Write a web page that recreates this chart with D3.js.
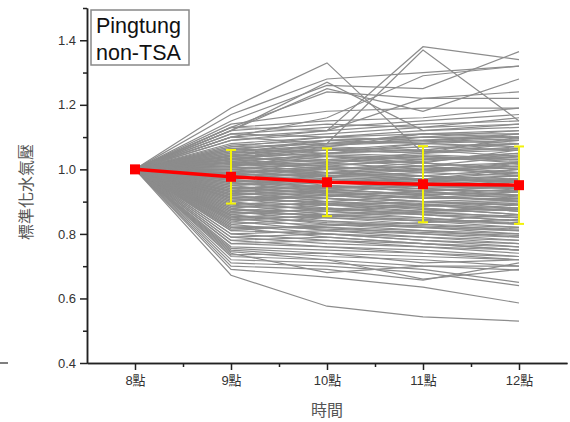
<!DOCTYPE html>
<html>
<head>
<meta charset="utf-8">
<script src="https://cdn.jsdelivr.net/npm/d3@7"></script>
<style>
  body { margin: 0; background: #fff; }
  svg { display: block; }
</style>
</head>
<body>
<div id="chart"></div>
<script>
// hours on the x axis
var hours = [8, 9, 10, 11, 12]
var hourLabels = ["8點", "9點", "10點", "11點", "12點"]
var yTicks = [0.4, 0.6, 0.8, 1.0, 1.2, 1.4]

// mean of all stations and its spread (error bars)
var meanVals = [1.0, 0.977, 0.96, 0.954, 0.951]
var sdVals = [0, 0.083, 0.105, 0.118, 0.12]

// every station starts at 1.0 at 8點; values below are 9點..12點
var startVal = 1.0
var stationVals = [
  [1.07,1.08,1.09,1.10],[1.065,1.05,1.07,1.08],[1.06,1.09,1.08,1.11],[1.055,1.04,1.03,1.05],
  [1.05,1.07,1.10,1.09],[1.045,1.03,1.02,1.00],[1.04,1.06,1.05,1.07],[1.04,1.02,1.04,1.03],
  [1.035,1.05,1.06,1.04],[1.03,1.01,0.99,1.01],[1.03,1.04,1.02,1.06],[1.025,1.00,1.01,0.98],
  [1.02,1.03,1.05,1.08],[1.02,0.99,0.97,0.96],[1.015,1.02,1.00,1.02],[1.01,1.04,1.03,1.05],
  [1.01,0.98,0.98,0.97],[1.005,1.00,1.02,1.00],[1.00,1.02,1.04,1.03],[1.00,0.97,0.95,0.94],
  [0.995,0.99,1.00,1.01],[0.99,1.01,0.99,0.98],[0.99,0.96,0.94,0.95],[0.985,0.98,0.97,0.99],
  [0.98,1.00,1.01,1.04],[0.98,0.95,0.93,0.92],[0.975,0.97,0.96,0.95],[0.97,0.99,0.98,0.96],
  [0.97,0.94,0.92,0.90],[0.965,0.96,0.97,0.98],[0.96,0.98,1.00,0.99],[0.96,0.93,0.91,0.91],
  [0.955,0.95,0.94,0.93],[0.95,0.97,0.96,0.97],[0.95,0.92,0.90,0.88],[0.945,0.94,0.95,0.94],
  [0.94,0.96,0.97,1.00],[0.94,0.91,0.89,0.87],[0.935,0.93,0.92,0.93],[0.93,0.95,0.94,0.92],
  [0.93,0.90,0.88,0.86],[0.925,0.92,0.93,0.95],[0.92,0.94,0.92,0.90],[0.92,0.89,0.87,0.85],
  [0.915,0.91,0.90,0.91],[0.91,0.93,0.95,0.96],[0.91,0.88,0.86,0.84],[0.905,0.90,0.89,0.88],
  [0.90,0.92,0.91,0.93],[0.90,0.87,0.85,0.83],[0.895,0.89,0.90,0.89],[0.89,0.91,0.89,0.87],
  [0.89,0.86,0.84,0.82],[0.885,0.88,0.87,0.88],[0.88,0.90,0.92,0.94],[0.88,0.85,0.83,0.81],
  [0.875,0.87,0.86,0.85],[0.87,0.89,0.88,0.86],[0.87,0.84,0.82,0.80],[0.865,0.86,0.87,0.89],
  [0.86,0.88,0.86,0.84],[0.86,0.83,0.81,0.79],[0.855,0.85,0.84,0.83],[0.85,0.87,0.89,0.90],
  [0.85,0.82,0.80,0.78],[0.845,0.84,0.83,0.82],[0.84,0.86,0.85,0.83],[0.84,0.81,0.79,0.77],
  [0.835,0.83,0.82,0.81],[0.83,0.85,0.84,0.86],[0.83,0.80,0.78,0.76],[0.82,0.82,0.81,0.80],
  [0.82,0.79,0.77,0.75],[0.81,0.83,0.82,0.81],[0.81,0.80,0.79,0.78],[0.80,0.78,0.76,0.75],
  [0.80,0.81,0.80,0.79],[0.79,0.77,0.76,0.74],[0.79,0.80,0.78,0.77],[0.78,0.76,0.75,0.73],
  [0.78,0.79,0.77,0.76],[0.77,0.76,0.74,0.73],[0.77,0.78,0.77,0.75],[0.76,0.75,0.74,0.72],
  [1.06,1.07,1.06,1.09],[1.05,1.06,1.08,1.07],[1.04,1.05,1.04,1.02],[1.03,1.06,1.07,1.06],
  [1.02,1.01,1.03,1.04],[1.01,1.03,1.01,0.99],[1.00,0.99,1.01,1.02],[0.99,1.00,0.98,1.00],
  [0.98,0.99,0.97,0.97],[0.97,0.98,0.99,1.02],[0.96,0.97,0.95,0.96],[0.95,0.96,0.98,0.95],
  [0.94,0.95,0.93,0.91],[0.93,0.94,0.96,0.98],[0.92,0.93,0.91,0.92],[0.91,0.92,0.90,0.89],
  [1.075,1.09,1.10,1.10],[1.07,1.10,1.09,1.08],[1.065,1.08,1.11,1.12],[1.06,1.06,1.05,1.10],
  [1.08,1.10,1.11,1.11],[1.05,1.09,1.10,1.12],[1.04,1.08,1.09,1.11],[1.03,1.07,1.11,1.10],
  [1.02,1.05,1.08,1.09],[1.01,1.05,1.06,1.08],
  [1.055,1.075,1.085,1.095],[1.045,1.065,1.055,1.065],[1.035,1.025,1.045,1.035],[1.025,1.045,1.035,1.025],
  [1.015,1.005,0.995,1.015],[1.005,1.015,1.025,1.045],[0.995,0.975,0.965,0.965],[0.985,1.005,0.995,1.005],
  [0.975,0.985,1.005,0.985],[0.965,0.945,0.935,0.935],[0.955,0.965,0.945,0.945],[0.945,0.925,0.915,0.905],
  [0.935,0.945,0.955,0.965],[0.925,0.935,0.925,0.915],[0.915,0.895,0.875,0.875],[0.905,0.915,0.935,0.945],
  [0.895,0.875,0.865,0.855],[0.885,0.895,0.885,0.895],[0.875,0.855,0.845,0.835],[0.865,0.875,0.895,0.905],
  [0.855,0.835,0.825,0.815],[0.845,0.855,0.865,0.875],[0.825,0.815,0.805,0.795],[0.815,0.825,0.835,0.845],
  [1.19,1.33,1.05,1.06],[1.13,1.12,1.38,1.34],[1.10,1.08,1.37,1.15],[1.17,1.28,1.30,1.32],
  [1.15,1.26,1.25,1.365],[1.12,1.25,1.18,1.28],[1.13,1.24,1.22,1.22],[1.14,1.18,1.19,1.19],
  [1.12,1.27,1.12,1.14],[1.10,1.16,1.29,1.32],[1.11,1.13,1.15,1.17],[1.12,1.14,1.13,1.16],
  [1.10,1.12,1.14,1.15],[1.11,1.10,1.12,1.13],[1.09,1.11,1.13,1.14],[1.13,1.15,1.16,1.19],
  [1.09,1.12,1.22,1.24],
  [0.672,0.576,0.543,0.53],[0.69,0.666,0.635,0.586],[0.70,0.69,0.657,0.71],[0.71,0.70,0.68,0.64],
  [0.72,0.71,0.69,0.65],[0.73,0.72,0.70,0.688],[0.74,0.68,0.70,0.70],[0.75,0.73,0.72,0.70],
  [0.735,0.74,0.73,0.72],[0.745,0.72,0.66,0.69],[0.755,0.74,0.71,0.72]
]

var width = 570,
  height = 422

var svg = d3
  .select("#chart")
  .append("svg")
  .attr("width", width)
  .attr("height", height)

var x = d3.scaleLinear().domain([7.5, 12.5]).range([87, 567])
var y = d3.scaleLinear().domain([0.4, 1.5]).range([363, 8])

var line = d3
  .line()
  .x(function(d, i) { return x(hours[i]) })
  .y(function(d) { return y(d) })

/* ------- STATION LINES -------*/
svg
  .append("g")
  .selectAll("path")
  .data(stationVals)
  .enter()
  .append("path")
  .attr("d", function(d) { return line([startVal].concat(d)) })
  .attr("fill", "none")
  .attr("stroke", "#8c8c8c")
  .attr("stroke-width", 1.2)

/* ------- ERROR BARS -------*/
var errs = svg
  .append("g")
  .selectAll("g")
  .data(hours.slice(1))
  .enter()
  .append("g")
  .attr("stroke", "#f2f20a")
  .attr("stroke-width", 2)

errs
  .append("line")
  .attr("x1", function(d) { return x(d) })
  .attr("x2", function(d) { return x(d) })
  .attr("y1", function(d, i) { return y(meanVals[i + 1] + sdVals[i + 1]) })
  .attr("y2", function(d, i) { return y(meanVals[i + 1] - sdVals[i + 1]) })

errs
  .selectAll(".cap")
  .data(function(d, i) {
    return [
      { h: d, v: meanVals[i + 1] + sdVals[i + 1] },
      { h: d, v: meanVals[i + 1] - sdVals[i + 1] }
    ]
  })
  .enter()
  .append("line")
  .attr("class", "cap")
  .attr("x1", function(d) { return x(d.h) - 5 })
  .attr("x2", function(d) { return x(d.h) + 5 })
  .attr("y1", function(d) { return y(d.v) })
  .attr("y2", function(d) { return y(d.v) })

/* ------- MEAN LINE -------*/
svg
  .append("path")
  .attr("d", line(meanVals))
  .attr("fill", "none")
  .attr("stroke", "#ff0000")
  .attr("stroke-width", 3.5)

svg
  .append("g")
  .selectAll("rect")
  .data(meanVals)
  .enter()
  .append("rect")
  .attr("x", function(d, i) { return x(hours[i]) - 5 })
  .attr("y", function(d) { return y(d) - 5 })
  .attr("width", 10)
  .attr("height", 10)
  .attr("fill", "#ff0000")

/* ------- AXES -------*/
function styleAxis(g) {
  g.selectAll("path, line").attr("stroke", "#222").attr("stroke-width", 1.5)
  g.selectAll("text")
    .attr("fill", "#333")
    .style("font-family", "Arial, 'Liberation Sans', 'Noto Sans CJK TC', sans-serif")
    .style("font-size", "13px")
}

svg
  .append("g")
  .attr("transform", "translate(87,0)")
  .call(
    d3.axisLeft(y)
      .tickValues([0.5, 0.7, 0.9, 1.1, 1.3, 1.5])
      .tickSize(4)
      .tickSizeOuter(0)
      .tickFormat("")
  )
  .call(styleAxis)

svg
  .append("g")
  .attr("transform", "translate(87,0)")
  .call(
    d3.axisLeft(y)
      .tickValues(yTicks)
      .tickSize(7)
      .tickSizeOuter(0)
      .tickPadding(4)
      .tickFormat(d3.format(".1f"))
  )
  .call(styleAxis)

svg
  .append("g")
  .attr("transform", "translate(0,363)")
  .call(
    d3.axisBottom(x)
      .tickValues([8.5, 9.5, 10.5, 11.5])
      .tickSize(4)
      .tickSizeOuter(0)
      .tickFormat("")
  )
  .call(styleAxis)

svg
  .append("g")
  .attr("transform", "translate(0,363)")
  .call(
    d3.axisBottom(x)
      .tickValues(hours)
      .tickSize(7)
      .tickSizeOuter(0)
      .tickPadding(6)
      .tickFormat(function(d, i) { return hourLabels[i] })
  )
  .call(styleAxis)

// stray mark at the left edge of the original figure
svg
  .append("line")
  .attr("x1", 0)
  .attr("x2", 8)
  .attr("y1", 363)
  .attr("y2", 363)
  .attr("stroke", "#555")
  .attr("stroke-width", 1.5)

/* ------- AXIS TITLES -------*/
svg
  .append("text")
  .attr("transform", "translate(28,192) rotate(-90)")
  .attr("text-anchor", "middle")
  .attr("dominant-baseline", "middle")
  .attr("fill", "#555")
  .style("font-family", "'Noto Sans CJK TC', sans-serif")
  .style("font-size", "16px")
  .text("標準化水氣壓")

svg
  .append("text")
  .attr("x", x(10))
  .attr("y", 416)
  .attr("text-anchor", "middle")
  .attr("fill", "#555")
  .style("font-family", "'Noto Sans CJK TC', sans-serif")
  .style("font-size", "16px")
  .text("時間")

/* ------- LABEL BOX -------*/
var box = svg.append("g").attr("transform", "translate(91,10)")

box
  .append("rect")
  .attr("width", 98)
  .attr("height", 55)
  .attr("fill", "#fff")
  .attr("stroke", "#888")
  .attr("stroke-width", 1.5)

box
  .selectAll("text")
  .data(["Pingtung", "non-TSA"])
  .enter()
  .append("text")
  .attr("x", 5)
  .attr("y", function(d, i) { return 23 + i * 27 })
  .attr("fill", "#111")
  .style("font-family", "Arial, 'Liberation Sans', sans-serif")
  .style("font-size", "21.5px")
  .text(function(d) { return d })
</script>
</body>
</html>
